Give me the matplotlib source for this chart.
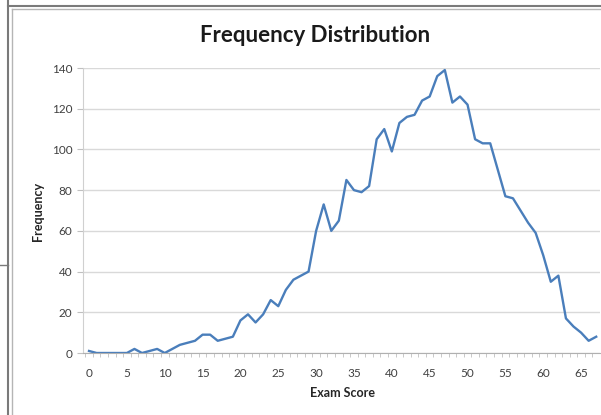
import matplotlib
matplotlib.use("Agg")
import matplotlib.pyplot as plt
from matplotlib.lines import Line2D

# exam score 0..67 and how many students got each score
scores = list(range(68))
freq = [1, 0, 0, 0, 0, 0, 2, 0, 1, 2,
        0, 2, 4, 5, 6, 9, 9, 6, 7, 8,
        16, 19, 15, 19, 26, 23, 31, 36, 38, 40,
        60, 73, 60, 65, 85, 80, 79, 82, 105, 110,
        99, 113, 116, 117, 124, 126, 136, 139, 123, 126,
        122, 105, 103, 103, 90, 77, 76, 70, 64, 59,
        48, 35, 38, 17, 13, 10, 6, 8]
yticks = [0, 20, 40, 60, 80, 100, 120, 140]
xticks = list(range(0, 66, 5))

plt.rcParams['font.family'] = ['Lato', 'DejaVu Sans']

W, H = 601, 415
fig = plt.figure(figsize=(W / 100, H / 100), dpi=100)
fig.patch.set_facecolor('white')

# pixel -> figure fraction helpers
fx = lambda px: px / W
fy = lambda py: 1 - py / H

# window frame lines from the screenshot
frame = '#7a7a7a'
fig.add_artist(Line2D([fx(8), fx(8)], [fy(0), fy(H)], color=frame, lw=1.5))
fig.add_artist(Line2D([fx(8), fx(W)], [fy(6), fy(6)], color=frame, lw=1.5))
fig.add_artist(Line2D([fx(11.5), fx(11.5)], [fy(9), fy(H)], color='#b5b5b5', lw=1.0))
fig.add_artist(Line2D([fx(11.5), fx(W)], [fy(9), fy(9)], color='#b5b5b5', lw=1.0))
fig.add_artist(Line2D([fx(0), fx(8)], [fy(265), fy(265)], color=frame, lw=1.0))

ax = fig.add_axes([fx(83.5), fy(353), (600 - 83.5) / W, (353 - 68) / H])
ax.plot(scores, freq, color='#4a7ebb', lw=1.7, solid_joinstyle='round')

ax.set_xlim(-0.73, 67.5)
ax.set_ylim(0, 140)
ax.set_yticks(yticks)
ax.set_xticks(xticks)
ax.set_xticks([i + 0.5 for i in range(-1, 67)], minor=True)
ax.grid(axis='y', color='#d9d9d9', lw=1.0)
ax.set_axisbelow(True)

for s in ['top', 'right']:
    ax.spines[s].set_visible(False)
ax.spines['left'].set_color('#d0d0d0')
ax.spines['bottom'].set_color('#b0b0b0')

ax.tick_params(axis='y', length=4, color='#c0c0c0', labelsize=8.5,
               labelcolor='#404040', pad=4)
ax.tick_params(axis='x', which='major', length=0, labelsize=8.5,
               labelcolor='#404040', pad=11)
ax.tick_params(axis='x', which='minor', length=3, color='#c0c0c0')

ax.set_xlabel('Exam Score', fontsize=9, fontweight='bold', color='#262626')
ax.set_ylabel('Frequency', fontsize=9, fontweight='bold', color='#262626')
ax.xaxis.label.set_va('center')
ax.yaxis.label.set_va('center')
ax.xaxis.set_label_coords((342 - 83.5) / 516.5, (353 - 393) / 285)
ax.yaxis.set_label_coords((38 - 83.5) / 516.5, (353 - 211) / 285)

fig.text(fx(315), fy(35), 'Frequency Distribution', fontsize=16, fontweight='bold',
         color='#1a1a1a', ha='center', va='center')

fig.savefig('out.png', dpi=100)
